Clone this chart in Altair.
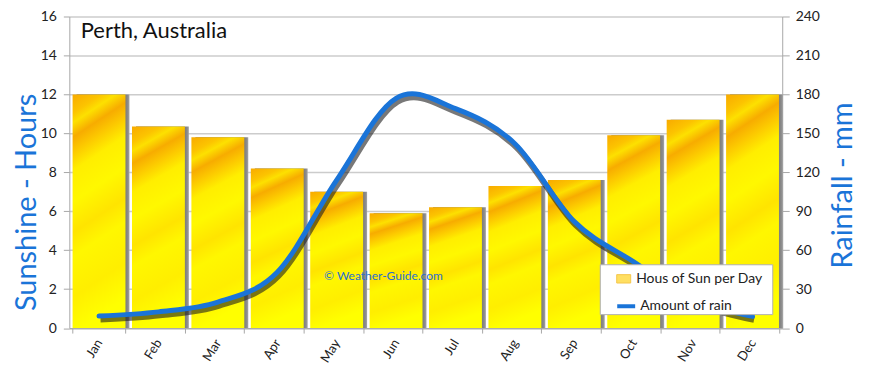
import altair as alt
import pandas as pd

months = ["Jan", "Feb", "Mar", "Apr", "May", "Jun", "Jul", "Aug", "Sep", "Oct", "Nov", "Dec"]
sunshine_hours = [12.0, 10.35, 9.8, 8.2, 7.0, 5.9, 6.2, 7.3, 7.6, 9.9, 10.7, 12.0]
rainfall_mm = [9.3, 12.5, 20, 43, 114, 177, 169, 142, 82, 51, 22, 9]
sun_ticks = [0, 2, 4, 6, 8, 10, 12, 14, 16]
rain_ticks = [0, 30, 60, 90, 120, 150, 180, 210, 240]
sun_label = "Hous of Sun per Day"
rain_label = "Amount of rain"
chart_title = "Perth, Australia"
watermark = "\u00a9 Weather-Guide.com"

df = pd.DataFrame({"month": months, "sun": sunshine_hours, "rain": rainfall_mm,
                   "sun_lbl": sun_label, "rain_lbl": rain_label})
one = pd.DataFrame({"k": [0]})

FONT = "Lato"
BLUE = "#1a74d8"
GRAY = "#a8a8a8"

x_enc = alt.X("month:N", sort=months,
              scale=alt.Scale(paddingInner=0.11, paddingOuter=0.055),
              axis=alt.Axis(title=None, labelAngle=-58, labelFontSize=13, labelColor="#222",
                            labelFont=FONT, labelPadding=7, tickBand="extent", tickSize=5,
                            tickColor=GRAY, domainColor=GRAY, grid=False))

y_sun = alt.Y("sun:Q", scale=alt.Scale(domain=[0, 16]),
              axis=alt.Axis(title="Sunshine - Hours", values=sun_ticks, orient="left", grid=True,
                            gridColor="#cccccc", gridWidth=1.5, tickSize=6, tickColor=GRAY,
                            domainColor=GRAY, labelFontSize=14, labelFont=FONT, labelColor="#222",
                            labelPadding=7, titleFontSize=29, titleColor=BLUE, titleFont=FONT,
                            titleFontWeight="normal", titleAngle=270, titleX=-43, titleY=186,
                            titleAlign="center", titleBaseline="middle"))

y_rain = alt.Y("rain:Q", scale=alt.Scale(domain=[0, 240]),
               axis=alt.Axis(title="Rainfall - mm", values=rain_ticks, orient="right", grid=False,
                             tickSize=7, tickColor=GRAY, domainColor=GRAY, labelFontSize=14,
                             labelFont=FONT, labelColor="#222", labelPadding=6,
                             titleFontSize=29, titleColor=BLUE, titleFont=FONT,
                             titleFontWeight="normal", titleAngle=270, titleX=60, titleY=169,
                             titleAlign="center", titleBaseline="middle"))

bar_grad = alt.LinearGradient(
    gradient="linear", x1=0, y1=0, x2=0.15, y2=1,
    stops=[alt.GradientStop(color="#f8aa00", offset=0),
           alt.GradientStop(color="#fcc400", offset=0.08),
           alt.GradientStop(color="#fde000", offset=0.12),
           alt.GradientStop(color="#f7ac00", offset=0.18),
           alt.GradientStop(color="#fcc800", offset=0.24),
           alt.GradientStop(color="#ffee00", offset=0.32),
           alt.GradientStop(color="#fff800", offset=0.45),
           alt.GradientStop(color="#ffe400", offset=0.58),
           alt.GradientStop(color="#fff700", offset=0.68),
           alt.GradientStop(color="#ffee00", offset=0.85),
           alt.GradientStop(color="#ffff00", offset=1)])

shadow_grad = alt.LinearGradient(
    gradient="linear", x1=0, y1=0, x2=1, y2=0,
    stops=[alt.GradientStop(color="#6e6e6e", offset=0),
           alt.GradientStop(color="#7a7a7a", offset=0.92),
           alt.GradientStop(color="#8c8c8c", offset=0.97),
           alt.GradientStop(color="#a6a6a6", offset=1)])

bar_shadow = alt.Chart(df).mark_bar(fill=shadow_grad, xOffset=4).encode(x=x_enc, y=y_sun)
bars = alt.Chart(df).mark_bar(fill=bar_grad).encode(x=x_enc, y=y_sun)
sun_legend = alt.Chart(df).transform_filter("false").mark_point(filled=True).encode(
    x=x_enc, y=y_sun,
    fill=alt.Fill("sun_lbl:N", scale=alt.Scale(domain=[sun_label], range=["#ffd21f"]),
                  legend=alt.Legend(title=None, orient="none", legendX=548.5, legendY=255.6,
                                    symbolType="M-1,-0.6H1V0.6H-1Z", symbolSize=196,
                                    symbolStrokeColor="#f2b000", symbolStrokeWidth=1,
                                    labelFont=FONT, labelFontSize=14, labelColor="#222",
                                    labelOffset=5, padding=0)))

left_group = alt.layer(bar_shadow, bars, sun_legend)

line_shadow = alt.Chart(df).mark_line(color="#1e1e1e", opacity=0.6, strokeWidth=6,
                                      interpolate="cardinal", xOffset=1.5, yOffset=3.5).encode(
    x=x_enc, y=y_rain)
rain_line = alt.Chart(df).mark_line(strokeWidth=5, interpolate="cardinal", strokeCap="round").encode(
    x=x_enc, y=y_rain,
    stroke=alt.Stroke("rain_lbl:N", scale=alt.Scale(domain=[rain_label], range=[BLUE]),
                      legend=alt.Legend(title=None, orient="none", legendX=547.5, legendY=279.6,
                                        symbolType="stroke", symbolSize=324, symbolStrokeWidth=4,
                                        labelFont=FONT, labelFontSize=14, labelColor="#222",
                                        labelOffset=3, padding=0)))

right_group = alt.layer(line_shadow, rain_line)

legend_box = alt.Chart(one).mark_rect(fill="white", stroke="#b0b0b0", strokeWidth=1).encode(
    x=alt.value(532.5), x2=alt.value(705.5), y=alt.value(249), y2=alt.value(299))

title_text = alt.Chart(one).mark_text(text=chart_title, font=FONT, fontSize=22, color="#111",
                                      align="left", baseline="middle").encode(
    x=alt.value(11.5), y=alt.value(15))

wm_text = alt.Chart(one).mark_text(text=watermark, font=FONT, fontSize=12, color="#2a6fd0",
                                   align="left", baseline="middle").encode(
    x=alt.value(255.5), y=alt.value(260))

chart = alt.layer(left_group, right_group, legend_box, title_text, wm_text).resolve_scale(
    y="independent"
).properties(
    width=715, height=312.5, autosize="none",
    padding={"left": 61.5, "top": 8, "right": 80, "bottom": 38},
    background="white"
).configure_view(strokeWidth=0)

chart.save("out.html", embed_options={"renderer": "svg", "actions": False})
